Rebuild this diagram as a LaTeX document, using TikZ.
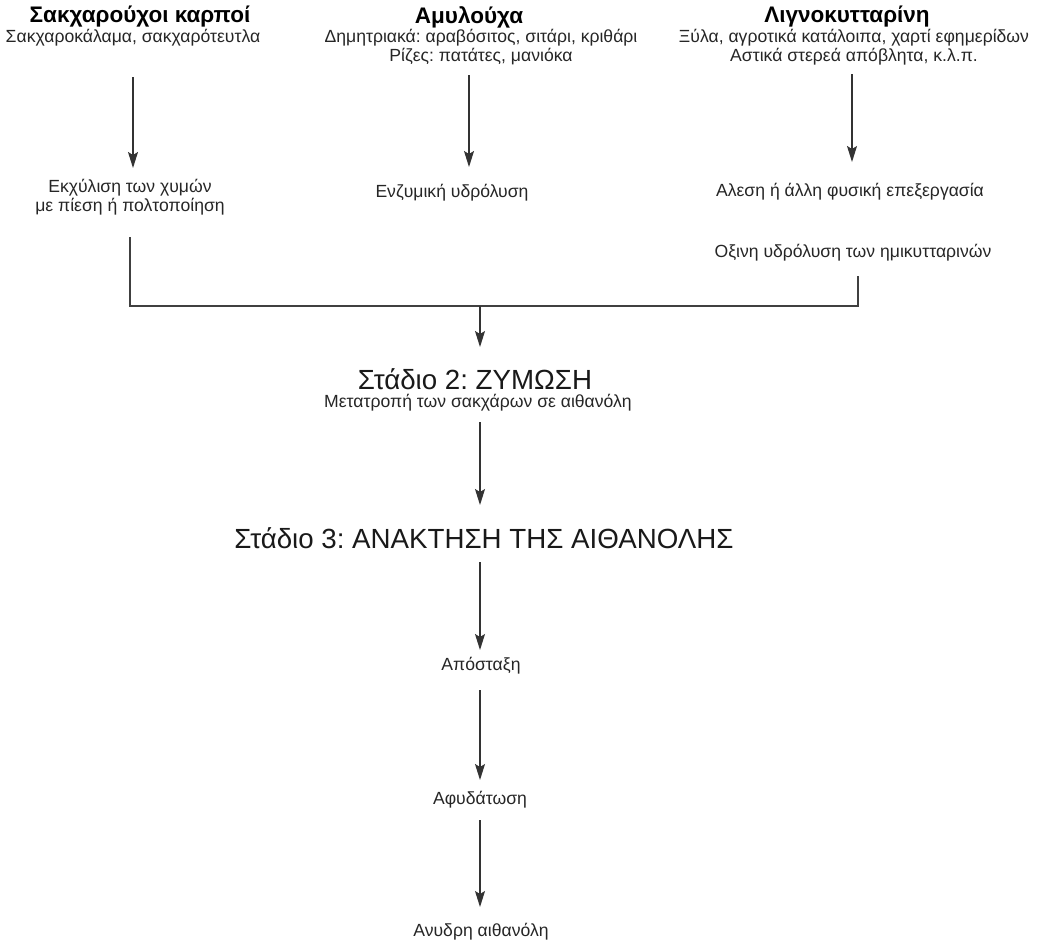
\documentclass[tikz,border=0pt]{standalone}
\usepackage{fontspec}
\setmainfont{Liberation Sans}
\usetikzlibrary{arrows.meta}
\frenchspacing
\begin{document}
\begin{tikzpicture}[x=1pt,y=-1pt,
  txt/.style={font=\fontsize{17.6}{19}\selectfont, align=center, inner sep=0pt, text=black!85},
  ttl/.style={font=\fontsize{22.5}{24}\selectfont\bfseries, inner sep=0pt},
  big/.style={font=\fontsize{27.7}{30}\selectfont, inner sep=0pt, text=black!90},
  arr/.style={draw=black!80, line width=1.3pt, -{Stealth[length=16pt,width=10pt,inset=3pt]}},
  ln/.style={draw=black!75, line width=1.3pt}]
\useasboundingbox (0,0) rectangle (1048,945);
% sources
\node[ttl] (t1) at (140,17) {Σακχαρούχοι καρποί};
\node[txt] (d1) at (133,38) {Σακχαροκάλαμα, σακχαρότευτλα};
\node[ttl] (t2) at (469,17) {Αμυλούχα};
\node[txt] (d2) at (481,47) {Δημητριακά: αραβόσιτος, σιτάρι, κριθάρι\\Ρίζες: πατάτες, μανιόκα};
\node[ttl] (t3) at (847,17) {Λιγνοκυτταρίνη};
\node[txt] (d3) at (854,47) {Ξύλα, αγροτικά κατάλοιπα, χαρτί εφημερίδων\\Αστικά στερεά απόβλητα, κ.λ.π.};
% stage 1 processes
\node[txt] (p1) at (130,197) {Εκχύλιση των χυμών\\με πίεση ή πολτοποίηση};
\node[txt] (p2) at (452,193) {Ενζυμική υδρόλυση};
\node[txt] (p3) at (850,192) {Αλεση ή άλλη φυσική επεξεργασία};
\node[txt] (p4) at (853,253) {Οξινη υδρόλυση των ημικυτταρινών};
% stages
\node[big] (s2) at (475,379) {Στάδιο 2: ΖΥΜΩΣΗ};
\node[txt] (s2d) at (478,403) {Μετατροπή των σακχάρων σε αιθανόλη};
\node[big] (s3) at (484,538) {Στάδιο 3: ΑΝΑΚΤΗΣΗ ΤΗΣ ΑΙΘΑΝΟΛΗΣ};
\node[txt] (a) at (481,666) {Απόσταξη};
\node[txt] (b) at (480,800) {Αφυδάτωση};
\node[txt] (c) at (481,932) {Ανυδρη αιθανόλη};
% merge points
\coordinate (m1) at (130,306);
\coordinate (m2) at (858,306);
\coordinate (mj) at (480,306);
% arrows
\draw[arr] (d1.center) ++(0,39) -- ++(0,91);
\draw[arr] (d2.center) ++(-12,28) -- ++(0,92);
\draw[arr] (d3.center) ++(-2,27) -- ++(0,88);
\draw[ln] (p1.center) ++(0,40) -- (m1) -- (m2) -- ++(0,-30);
\draw[arr] (mj) -- ++(0,41);
\draw[arr] (s2d.center) ++(2,19) -- ++(0,83);
\draw[arr] (s3.center) ++(-4,24) -- ++(0,88);
\draw[arr] (a.center) ++(-1,24) -- ++(0,90);
\draw[arr] (b.center) ++(0,20) -- ++(0,87);
\end{tikzpicture}
\end{document}
